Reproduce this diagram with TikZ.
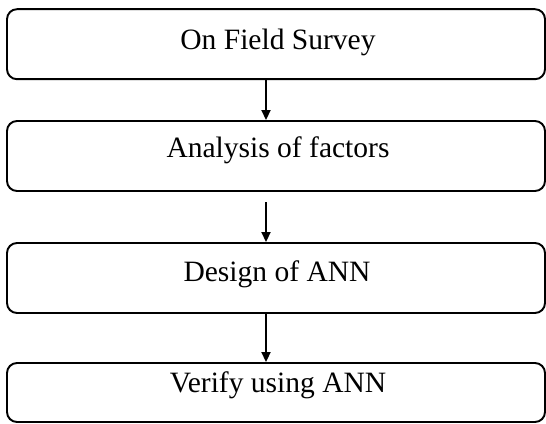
\documentclass[tikz,border=0pt]{standalone}
\usepackage{fontspec}
\setmainfont{Liberation Serif}
\usetikzlibrary{arrows.meta}
\tikzset{
	stage/.style = {draw, line width=1.1pt, rounded corners=0.2cm, minimum width=10.76cm, minimum height=1.4cm, inner sep=0pt},
	caption/.style = {anchor=base, inner sep=0pt, font=\fontsize{16.8}{20}\selectfont},
	flow/.style = {line width=1.1pt, -{Triangle[length=0.2cm, width=0.18cm]}}
}
\begin{document}
\begin{tikzpicture}
			\useasboundingbox (0, 0) rectangle (10.92, -8.46);
			\node[stage] (survey) at (5.52, -0.884) {};
			\node[stage] (analysis) at (5.52, -3.12) {};
			\node[stage] (design) at (5.52, -5.56) {};
			\node[stage, minimum height=1.18cm] (verify) at (5.52, -7.85) {};
			\node[caption] (survey-t) at (5.56, -1.0) {On Field Survey};
			\node[caption] (analysis-t) at (5.56, -3.14) {Analysis of factors};
			\node[caption] (design-t) at (5.54, -5.62) {Design of ANN};
			\node[caption] (verify-t) at (5.56, -7.84) {Verify using ANN};
			% arrows between stages
			\coordinate (axis) at (5.32, 0);
			\coordinate (gap) at (5.32, -4.04);
			\draw[flow] (survey.south -| axis) -- (analysis.north -| axis);
			\draw[flow] (gap) -- (design.north -| gap);
			\draw[flow] (design.south -| axis) -- (verify.north -| axis);
\end{tikzpicture}
\end{document}
